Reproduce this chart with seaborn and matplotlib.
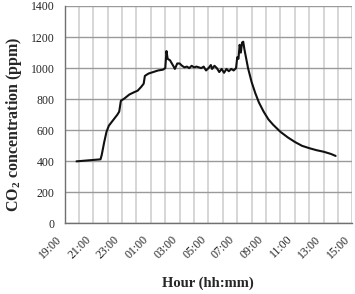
import pandas as pd
import seaborn as sns
import matplotlib.pyplot as plt

# CO2 readings taken off the chart (clock time, ppm)
times = ['19:50', '21:30', '21:35', '21:45', '21:55', '22:05', '22:20', '22:40',
         '22:48', '22:55', '23:10', '23:30', '23:50', '00:05', '00:20', '00:30',
         '00:35', '00:50', '01:10', '01:30', '01:50', '02:00', '02:05', '02:10',
         '02:20', '02:35', '02:40', '02:50', '03:00', '03:10', '03:20', '03:30',
         '03:40', '03:50', '04:00', '04:10', '04:20', '04:30', '04:40', '04:50',
         '05:00', '05:10', '05:15', '05:25', '05:35', '05:45', '05:55', '06:05',
         '06:15', '06:25', '06:35', '06:45', '06:55', '07:00', '07:05', '07:10',
         '07:15', '07:20', '07:25', '07:30', '07:35', '07:45', '08:00', '08:15',
         '08:30', '08:50', '09:10', '09:30', '10:00', '10:30', '11:00', '11:30',
         '12:00', '12:30', '13:00', '13:30', '13:50']
co2 = [400, 413, 440, 520, 590, 630, 660, 700,
       720, 790, 805, 830, 845, 855, 880, 900,
       950, 965, 975, 985, 990, 1000, 1110, 1060,
       1050, 1010, 995, 1030, 1030, 1015, 1005, 1010,
       1000, 1015, 1005, 1010, 1005, 1000, 1010, 985,
       1000, 1020, 995, 1015, 1000, 975, 995, 970,
       995, 980, 995, 985, 1000, 1070, 1060, 1150,
       1100, 1165, 1170, 1120, 1080, 1000, 910, 840,
       780, 720, 670, 635, 590, 555, 525, 500,
       485, 472, 462, 448, 435]
tick_labels = ['19:00', '21:00', '23:00', '01:00', '03:00', '05:00',
               '07:00', '09:00', '11:00', '13:00', '15:00']

# hours elapsed since 19:00 (times after midnight roll into the next day)
def hours_since_start(t):
    h, m = map(int, t.split(':'))
    val = h + m / 60 - 19
    return val + 24 if val < 0 else val

df = pd.DataFrame({'hour': [hours_since_start(t) for t in times], 'co2': co2})

sns.set_style('white')
plt.rcParams['font.family'] = ['Liberation Serif', 'DejaVu Serif']
plt.rcParams['mathtext.fontset'] = 'custom'
plt.rcParams['mathtext.rm'] = 'Liberation Serif:bold'
plt.rcParams['mathtext.bf'] = 'Liberation Serif:bold'

fig = plt.figure(figsize=(3.55, 2.94), dpi=100)
ax = fig.add_axes([0.1817, 0.2398, 0.811, 0.7398])

sns.lineplot(data=df, x='hour', y='co2', ax=ax, color='#111111', linewidth=1.5)

ax.set_xlim(0, 20)
ax.set_ylim(0, 1400)
ax.set_xticks(range(0, 21, 2))
ax.set_xticks(range(0, 21), minor=True)
ax.set_xticklabels(tick_labels, rotation=45, ha='right')
ax.set_yticks(range(0, 1401, 200))

# light hourly grid, darker horizontal grid
ax.grid(axis='x', which='both', color='#d0d0d0', linewidth=1.2)
ax.grid(axis='y', which='major', color='#9a9a9a', linewidth=1)
ax.set_axisbelow(True)

for side in ['top', 'right']:
    ax.spines[side].set_visible(False)
for side in ['left', 'bottom']:
    ax.spines[side].set_color('#707070')
    ax.spines[side].set_linewidth(1)

ax.tick_params(axis='both', which='major', direction='out', length=4,
               width=0.8, color='#707070', labelsize=8.5, pad=3)
ax.tick_params(axis='x', which='minor', length=0)

ax.set_xlabel('Hour (hh:mm)', fontsize=10.5, fontweight='bold')
ax.set_ylabel('CO$_2$ concentration (ppm)', fontsize=11.5, fontweight='bold')
ax.xaxis.set_label_coords(0.497, -0.246)
ax.yaxis.set_label_coords(-0.14, 0.455)

plt.savefig('out.png', dpi=100)
